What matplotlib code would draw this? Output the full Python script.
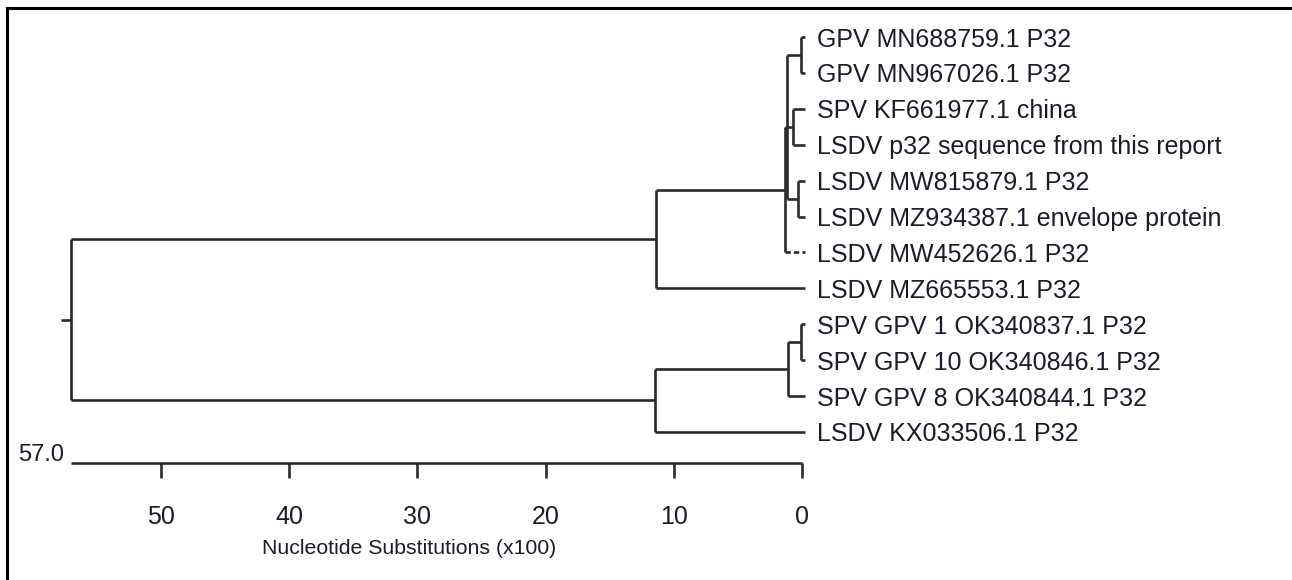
import matplotlib
matplotlib.use("Agg")
import matplotlib.pyplot as plt

# ---------------- data ----------------
leaf_names = [
    "GPV MN688759.1 P32",
    "GPV MN967026.1 P32",
    "SPV KF661977.1 china",
    "LSDV p32 sequence from this report",
    "LSDV MW815879.1 P32",
    "LSDV MZ934387.1 envelope protein",
    "LSDV MW452626.1 P32",
    "LSDV MZ665553.1 P32",
    "SPV GPV 1 OK340837.1 P32",
    "SPV GPV 10 OK340846.1 P32",
    "SPV GPV 8 OK340844.1 P32",
    "LSDV KX033506.1 P32",
]
dashed_leaves = [6]

# internal nodes: name -> height in substitutions (x100)
node_heights = {
    "root": 57.0, "B": 11.4, "A": 1.35, "A1": 1.2, "G": 0.05, "S": 0.7,
    "L": 0.3, "D": 11.5, "C": 1.1, "P": 0.05,
}
node_children = {
    "root": ["B", "D"],
    "B": ["A", 7],
    "A": ["A1", 6],
    "A1": ["G", "S", "L"],
    "G": [0, 1],
    "S": [2, 3],
    "L": [4, 5],
    "D": ["C", 11],
    "C": ["P", 10],
    "P": [8, 9],
}
scale_max = 57.0
tick_values = [50, 40, 30, 20, 10, 0]
xlabel = "Nucleotide Substitutions (x100)"

# ---------------- figure ----------------
W, H, DPI = 1292, 580, 100
fig = plt.figure(figsize=(W / DPI, H / DPI), dpi=DPI)
ax = fig.add_axes([0, 0, 1, 1])
ax.set_axis_off()

px_per_unit = 12.825
x0_px = 802.0
ax.set_xlim(x0_px / px_per_unit, (x0_px - W) / px_per_unit)
row_px, row0_px = 35.9, 37.0
ax.set_ylim((H - row0_px) / row_px, -row0_px / row_px)

font = "Liberation Sans"
lc = "#2a2a2a"
tc = "#1c1c28"
lw = 1.9
leaf_tip = -0.2

def node_y(n):
    if isinstance(n, int):
        return float(n)
    ys = [node_y(c) for c in node_children[n]]
    return (min(ys) + max(ys)) / 2.0

def draw(n):
    h = node_heights[n]
    ys = [node_y(c) for c in node_children[n]]
    ax.plot([h, h], [min(ys), max(ys)], color=lc, lw=lw, solid_capstyle="butt")
    for c, yc in zip(node_children[n], ys):
        if isinstance(c, int):
            ls = (0, (2.0, 1.2)) if c in dashed_leaves else "-"
            ax.plot([h, leaf_tip], [yc, yc], color=lc, lw=lw, ls=ls,
                    solid_capstyle="butt")
        else:
            ax.plot([h, node_heights[c]], [yc, yc], color=lc, lw=lw,
                    solid_capstyle="butt")
            draw(c)

draw("root")
ry = node_y("root")
ax.plot([scale_max + 0.8, scale_max], [ry, ry], color=lc, lw=lw, solid_capstyle="butt")

for i, name in enumerate(leaf_names):
    ax.text(-1.15, i + 0.07, name, fontsize=18, family=font, color=tc,
            ha="left", va="center")

# scale bar
sy = 11.87
ax.plot([scale_max, 0], [sy, sy], color=lc, lw=lw, solid_capstyle="butt")
for t in tick_values:
    ax.plot([t, t], [sy, sy + 0.42], color=lc, lw=lw, solid_capstyle="butt")
    ax.text(t, 13.37, str(t), fontsize=18, family=font, color=tc,
            ha="center", va="center")
ax.text(scale_max + 0.5, sy - 0.22, f"{scale_max:.1f}", fontsize=17, family=font,
        color=tc, ha="right", va="center")
ax.text(30.6, 14.25, xlabel, fontsize=15.3, family=font,
        color=tc, ha="center", va="center")

# frame (top and left only)
fig.add_artist(plt.Line2D([7 / W, 7 / W], [0, 1 - 8 / H], transform=fig.transFigure,
                          color="black", lw=2.2))
fig.add_artist(plt.Line2D([7 / W, 1], [1 - 8 / H, 1 - 8 / H], transform=fig.transFigure,
                          color="black", lw=2.2))

fig.savefig("out.png", dpi=DPI, facecolor="white")
